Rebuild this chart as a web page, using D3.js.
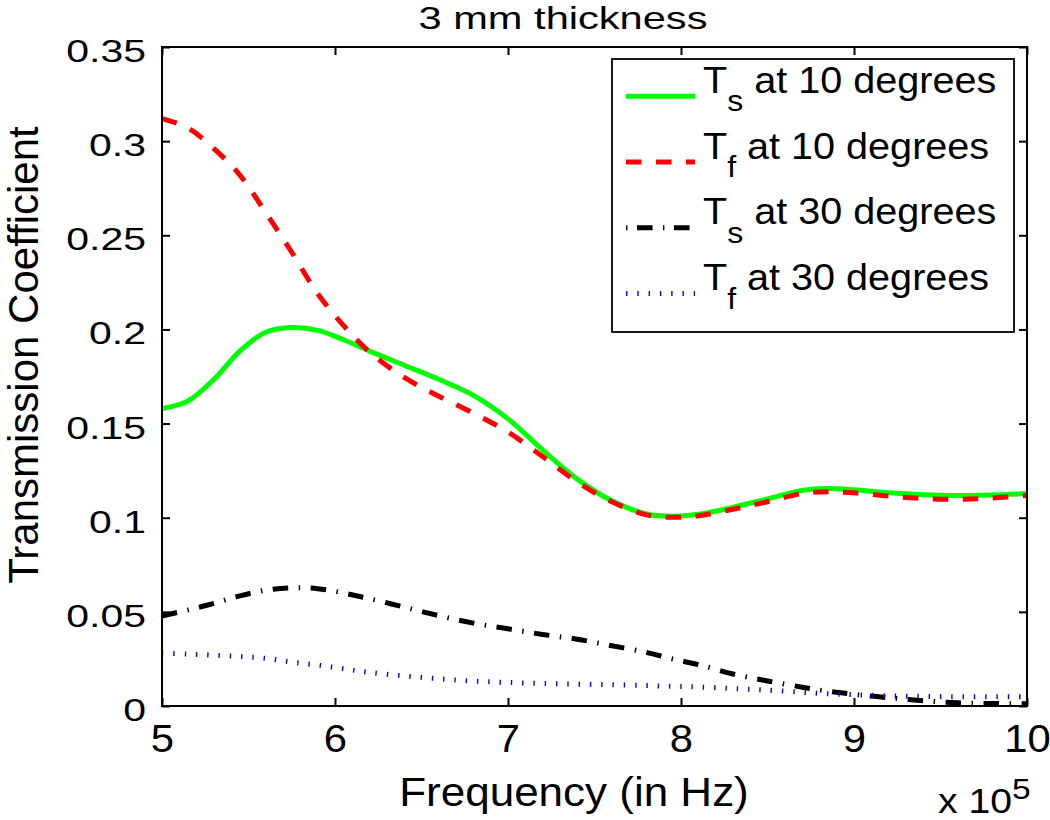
<!DOCTYPE html>
<html>
<head>
<meta charset="utf-8">
<script src="https://cdn.jsdelivr.net/npm/d3@7/dist/d3.min.js"></script>
<style>
  html, body { margin: 0; padding: 0; background: #fff; }
  svg { display: block; }
  text { font-family: "Liberation Sans", Arial, Helvetica, sans-serif; fill: #000; }
</style>
</head>
<body>
<svg id="chart" width="1050" height="820"></svg>
<script>
// ---------------- data (frequency in units of 10^5 Hz) ----------------
const freq = [5, 5.15, 5.3, 5.45, 5.6, 5.75, 5.9, 6.05, 6.2, 6.4, 6.6, 6.8, 7.0, 7.2, 7.4, 7.6, 7.8, 7.95, 8.1, 8.3, 8.5, 8.7, 8.85, 9.0, 9.2, 9.4, 9.6, 9.8, 10];
const tsAt10 = [0.158, 0.1620, 0.1735, 0.1885, 0.1985, 0.201, 0.1995, 0.1945, 0.1885, 0.1810, 0.1735, 0.1650, 0.1525, 0.1360, 0.1205, 0.109, 0.102, 0.1008, 0.1018, 0.1055, 0.110, 0.1145, 0.1155, 0.1148, 0.1132, 0.1122, 0.1118, 0.112, 0.1128];
const tfAt10 = [0.312, 0.307, 0.296, 0.282, 0.262, 0.241, 0.219, 0.202, 0.188, 0.1745, 0.1645, 0.1555, 0.1455, 0.1325, 0.119, 0.1085, 0.1015, 0.1002, 0.101, 0.1045, 0.1085, 0.1128, 0.1138, 0.1132, 0.1115, 0.1102, 0.1098, 0.1105, 0.1118];
const tsAt30 = [0.0478, 0.051, 0.0545, 0.0585, 0.0615, 0.0628, 0.0623, 0.0600, 0.057, 0.0525, 0.048, 0.044, 0.041, 0.038, 0.0355, 0.032, 0.0285, 0.025, 0.022, 0.017, 0.0133, 0.010, 0.0078, 0.0062, 0.0044, 0.0028, 0.0017, 0.0013, 0.0012];
const tfAt30 = [0.028, 0.0276, 0.027, 0.0263, 0.0253, 0.0233, 0.0217, 0.0198, 0.0178, 0.016, 0.0145, 0.0132, 0.0125, 0.012, 0.0116, 0.0113, 0.0109, 0.0104, 0.0101, 0.0093, 0.0084, 0.0073, 0.0065, 0.006, 0.0054, 0.0051, 0.0049, 0.0049, 0.0049];

const xTicks = [5, 6, 7, 8, 9, 10];
const yTicks = [0, 0.05, 0.1, 0.15, 0.2, 0.25, 0.3, 0.35];
const yTickLabels = ["0", "0.05", "0.1", "0.15", "0.2", "0.25", "0.3", "0.35"];

const seriesNames = ["T|s| at 10 degrees", "T|f| at 10 degrees", "T|s| at 30 degrees", "T|f| at 30 degrees"];
const seriesValues = [tsAt10, tfAt10, tsAt30, tfAt30];
const seriesColors = ["#00ff00", "#ff0000", "#000000", "#0000ff"];
const seriesDash = [null, "15.5,14.5", "15.5,10.5,1.5,10.5", "1.4,9.9"];
const legendDash = [null, "15.5,14.5", "1.4,9.6,15.6,10.4", "1.4,9.9"];

const titleText = "3 mm thickness";
const xLabelText = "Frequency (in Hz)";
const yLabelText = "Transmission Coefficient";

// ---------------- layout ----------------
const L = 162, R = 1027, T = 47, B = 706;
const svg = d3.select("#chart");

const x = d3.scaleLinear().domain([5, 10]).range([L, R]);
const y = d3.scaleLinear().domain([0, 0.35]).range([B, T]);

const line = d3.line()
  .x((d, i) => x(freq[i]))
  .y(d => y(d))
  .curve(d3.curveCatmullRom.alpha(0.5));

const plot = svg.append("g");
seriesValues.forEach((vals, k) => {
  plot.append("path")
    .datum(vals)
    .attr("d", line)
    .attr("fill", "none")
    .attr("stroke", seriesColors[k])
    .attr("stroke-width", 5)
    .attr("stroke-linecap", "butt")
    .attr("stroke-linejoin", "round")
    .attr("stroke-dasharray", seriesDash[k]);
});

function styleAxis(g) {
  g.select(".domain").remove();
  g.selectAll(".tick line").attr("stroke", "#000").attr("stroke-width", 2);
}
const xAxisB = svg.append("g").attr("transform", `translate(0,${B})`)
  .call(d3.axisBottom(x).tickValues(xTicks).tickSize(-8).tickFormat(d => String(d)));
styleAxis(xAxisB);
xAxisB.selectAll(".tick text")
  .attr("y", null).attr("dy", null)
  .attr("font-size", 38)
  .attr("text-anchor", "middle")
  .attr("transform", "translate(0,46) scale(1.1,1)");

const xAxisT = svg.append("g").attr("transform", `translate(0,${T})`)
  .call(d3.axisTop(x).tickValues(xTicks).tickSize(-8).tickFormat(""));
styleAxis(xAxisT);

const yAxisL = svg.append("g").attr("transform", `translate(${L},0)`)
  .call(d3.axisLeft(y).tickValues(yTicks).tickSize(-8).tickFormat((d, i) => yTickLabels[i]));
styleAxis(yAxisL);
yAxisL.selectAll(".tick text")
  .attr("x", null).attr("dy", null)
  .attr("font-size", 32)
  .attr("text-anchor", "end")
  .attr("transform", "translate(-16,14.5) scale(1.28,1)");

const yAxisR = svg.append("g").attr("transform", `translate(${R},0)`)
  .call(d3.axisRight(y).tickValues(yTicks).tickSize(-8).tickFormat(""));
styleAxis(yAxisR);

svg.append("rect")
  .attr("x", L).attr("y", T).attr("width", R - L).attr("height", B - T)
  .attr("fill", "none").attr("stroke", "#000").attr("stroke-width", 2);

svg.append("text")
  .attr("transform", "translate(563,29) scale(1.3,1)")
  .attr("text-anchor", "middle")
  .attr("font-size", 32)
  .text(titleText);

svg.append("text")
  .attr("transform", "translate(574,806) scale(1.1,1)")
  .attr("text-anchor", "middle")
  .attr("font-size", 40)
  .text(xLabelText);

const ex = svg.append("text")
  .attr("transform", "translate(938,813) scale(1.12,1)")
  .attr("font-size", 35);
ex.append("tspan").text("x 10");
ex.append("tspan").attr("font-size", 30).attr("dy", -14).text("5");

svg.append("text")
  .attr("transform", "translate(38,355) rotate(-90)")
  .attr("text-anchor", "middle")
  .attr("font-size", 42)
  .text(yLabelText);

const lg = svg.append("g");
lg.append("rect")
  .attr("x", 612).attr("y", 59).attr("width", 402).attr("height", 273)
  .attr("fill", "#fff").attr("stroke", "#000").attr("stroke-width", 1.8);

seriesNames.forEach((name, k) => {
  const base = 92.7 + k * 65.8;
  lg.append("line")
    .attr("x1", 626).attr("x2", 695)
    .attr("y1", base + 3.5).attr("y2", base + 3.5)
    .attr("stroke", seriesColors[k])
    .attr("stroke-width", 5)
    .attr("stroke-dasharray", legendDash[k]);
  const parts = name.split("|");
  const t = lg.append("text")
    .attr("transform", `translate(703,${base}) scale(1.07,1)`)
    .attr("font-size", 37);
  t.append("tspan").text(parts[0]);
  t.append("tspan").attr("font-size", 30).attr("dy", 18.5).text(parts[1]);
  t.append("tspan").attr("dy", -18.5).text(parts[2]);
});
</script>
</body>
</html>
